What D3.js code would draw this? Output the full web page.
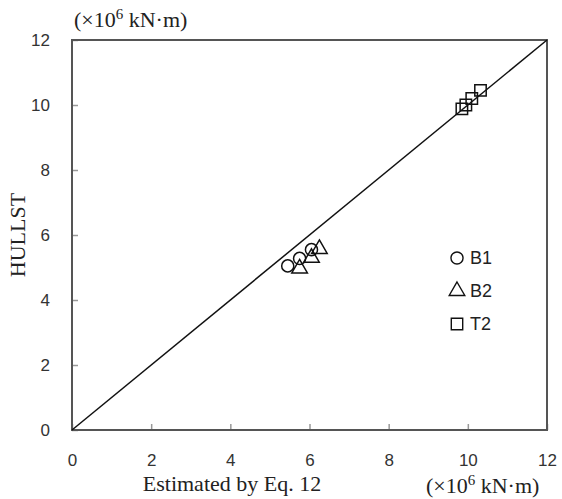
<!DOCTYPE html>
<html>
<head>
<meta charset="utf-8">
<script src="https://cdn.jsdelivr.net/npm/d3@7"></script>
<style>
  body { margin: 0; background: #fff; }
  .tick text { font-family: Arial, "Liberation Sans", sans-serif; font-size: 17px; fill: #333; }
  .serif { font-family: "Times New Roman", "Liberation Serif", serif; fill: #222; }
</style>
</head>
<body>
<svg id="chart" width="562" height="499"></svg>
<script>
const xTicks = [0, 2, 4, 6, 8, 10, 12];
const yTicks = [0, 2, 4, 6, 8, 10, 12];

const seriesNames = ['B1', 'B2', 'T2'];
const b1X = [5.45, 5.75, 6.05];
const b1Y = [5.05, 5.28, 5.55];
const b2X = [5.75, 6.05, 6.25];
const b2Y = [4.97, 5.3, 5.57];
const t2X = [9.85, 9.95, 10.1, 10.32];
const t2Y = [9.88, 10.0, 10.2, 10.45];

const W = 562, H = 499;
const m = { top: 40, right: 15, bottom: 69, left: 72 };
const iW = W - m.left - m.right;
const iH = H - m.top - m.bottom;

const svg = d3.select('#chart');
const g = svg.append('g').attr('transform', `translate(${m.left},${m.top})`);

const x = d3.scaleLinear().domain([0, 12]).range([0, iW]);
const y = d3.scaleLinear().domain([0, 12]).range([iH, 0]);

// axes with inward ticks
g.append('g')
  .attr('transform', `translate(0,${iH})`)
  .call(d3.axisBottom(x).tickValues(xTicks).tickSizeInner(-6).tickSizeOuter(0).tickPadding(24))
  .call(ax => {
    ax.select('.domain').remove();
    ax.selectAll('.tick line').attr('stroke', '#999').attr('stroke-width', 1.5);
  });

g.append('g')
  .call(d3.axisLeft(y).tickValues(yTicks).tickSizeInner(-6).tickSizeOuter(0).tickPadding(22))
  .call(ax => {
    ax.select('.domain').remove();
    ax.selectAll('.tick line').attr('stroke', '#999').attr('stroke-width', 1.5);
    ax.selectAll('.tick text').attr('dy', '0.35em');
  });

// frame
g.append('rect')
  .attr('x', 0).attr('y', 0)
  .attr('width', iW).attr('height', iH)
  .attr('fill', 'none')
  .attr('stroke', '#555')
  .attr('stroke-width', 2);

// 1:1 line
g.append('line')
  .attr('x1', x(0)).attr('y1', y(0))
  .attr('x2', x(12)).attr('y2', y(12))
  .attr('stroke', '#111')
  .attr('stroke-width', 1.5);

const sym = {
  B1: d3.symbol().type(d3.symbolCircle).size(115),
  B2: d3.symbol().type(d3.symbolTriangle).size(105),
  T2: d3.symbol().type(d3.symbolSquare).size(130)
};

const series = [
  { name: 'B1', xs: b1X, ys: b1Y },
  { name: 'B2', xs: b2X, ys: b2Y },
  { name: 'T2', xs: t2X, ys: t2Y }
];

series.forEach(s => {
  g.append('g').selectAll('path')
    .data(s.xs.map((v, i) => [v, s.ys[i]]))
    .join('path')
      .attr('d', sym[s.name]())
      .attr('transform', d => `translate(${x(d[0])},${y(d[1])})`)
      .attr('fill', 'none')
      .attr('stroke', '#111')
      .attr('stroke-width', 1.5);
});

// legend
const leg = svg.append('g').attr('transform', 'translate(457,258)');
seriesNames.forEach((n, i) => {
  const row = leg.append('g').attr('transform', `translate(0,${i * 33})`);
  row.append('path')
    .attr('d', sym[n]())
    .attr('fill', 'none')
    .attr('stroke', '#111')
    .attr('stroke-width', 1.4);
  row.append('text')
    .attr('x', 13).attr('y', 6)
    .attr('font-family', 'Arial, "Liberation Sans", sans-serif')
    .attr('font-size', 18)
    .attr('fill', '#222')
    .text(n);
});

// unit labels and titles
function unitLabel(xPos, yPos) {
  const t = svg.append('text').attr('class', 'serif')
    .attr('x', xPos).attr('y', yPos).attr('font-size', 22);
  t.append('tspan').text('(×10');
  t.append('tspan').attr('dy', -8).attr('font-size', 15).text('6');
  t.append('tspan').attr('dy', 8).text(' kN·m)');
}
unitLabel(74, 27);
unitLabel(426, 493);

svg.append('text').attr('class', 'serif')
  .attr('x', 232).attr('y', 491)
  .attr('text-anchor', 'middle')
  .attr('font-size', 22)
  .text('Estimated by Eq. 12');

svg.append('text').attr('class', 'serif')
  .attr('transform', 'translate(25,235) rotate(-90)')
  .attr('text-anchor', 'middle')
  .attr('font-size', 22)
  .text('HULLST');
</script>
</body>
</html>
